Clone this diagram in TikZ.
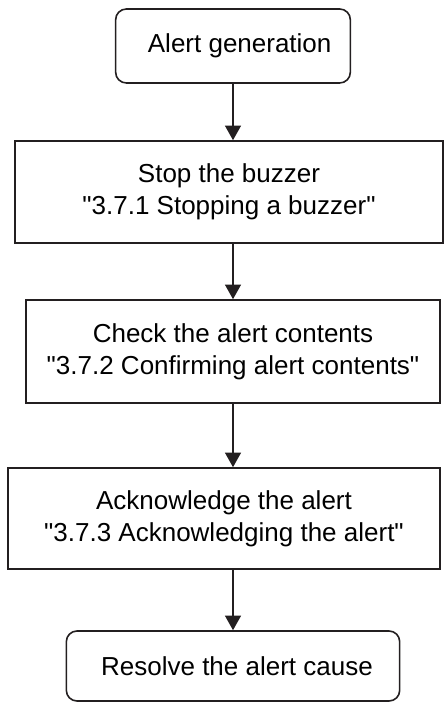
\documentclass[tikz,border=0pt]{standalone}
\usepackage{fontspec}
\setmainfont{Liberation Sans}
\usetikzlibrary{arrows.meta}
\definecolor{ink}{HTML}{231F20}

\begin{document}
\begin{tikzpicture}[x=0.75pt,y=-0.75pt,font=\fontsize{19.5}{24}\selectfont,
  stepbox/.style={draw=ink,line width=1.2pt,align=center,inner sep=0pt},
  endbox/.style={stepbox,rounded corners=8pt},
  flow/.style={draw=ink,line width=1.2pt,-{Triangle[length=11pt,width=12pt]}}]
  \useasboundingbox (0,0) rectangle (445,702);
  \node[endbox,minimum width=176pt,minimum height=55.5pt] (gen) at (233,46)
    {\hspace*{10pt}Alert generation};
  \node[stepbox,minimum width=321pt,minimum height=76.5pt] (stop) at (229,192)
    {Stop the buzzer\\\textquotedbl3.7.1 Stopping a buzzer\textquotedbl};
  \node[stepbox,minimum width=310.5pt,minimum height=77.25pt] (check) at (233,351.5)
    {Check the alert contents\\\textquotedbl3.7.2 Confirming alert contents\textquotedbl};
  \node[stepbox,minimum width=324pt,minimum height=75.75pt] (ack) at (224,518.5)
    {Acknowledge the alert\\\textquotedbl3.7.3 Acknowledging the alert\textquotedbl};
  \node[endbox,minimum width=250pt,minimum height=52.5pt] (fix) at (233,666)
    {\hspace*{6pt}Resolve the alert cause};

  \draw[flow] (gen.south) -- (stop.north -| gen.south);
  \draw[flow] (stop.south -| fix.north) -- (check.north -| fix.north);
  \draw[flow] (check.south -| fix.north) -- (ack.north -| fix.north);
  \draw[flow] (ack.south -| fix.north) -- (fix.north);
\end{tikzpicture}
\end{document}
